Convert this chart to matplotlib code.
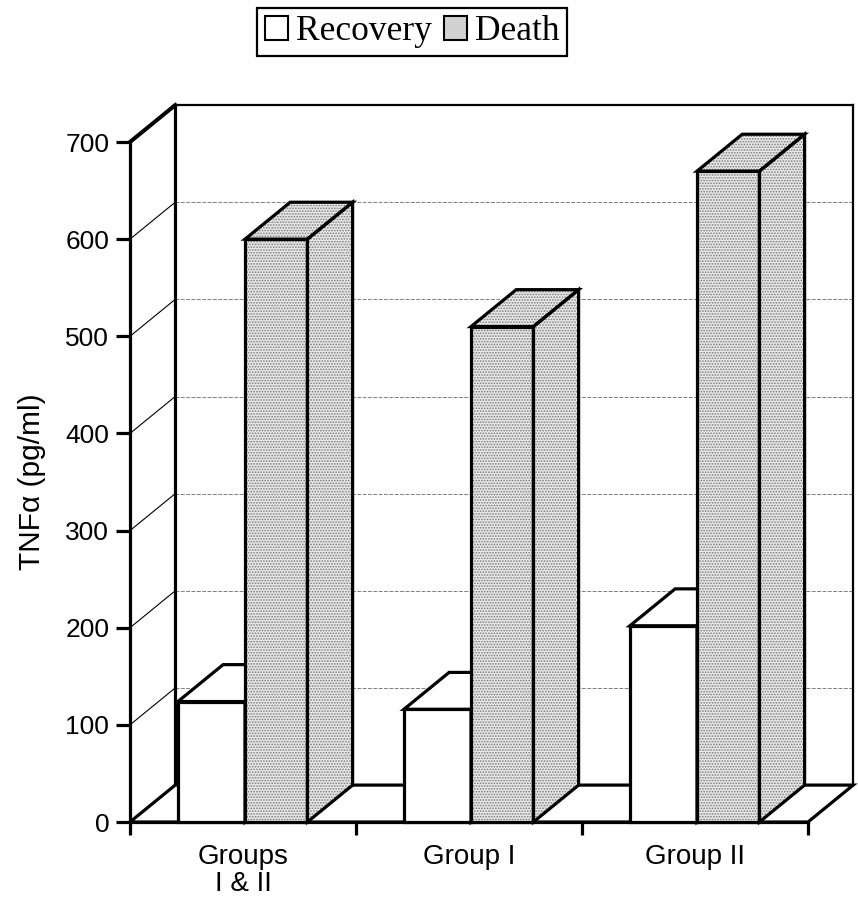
import matplotlib
matplotlib.use("Agg")
import matplotlib.pyplot as plt
from matplotlib.patches import Polygon, Patch

# data
categories = ["Groups\nI & II", "Group I", "Group II"]
recovery = [124, 116, 202]
death = [600, 510, 670]
yticks = [0, 100, 200, 300, 400, 500, 600, 700]

# pseudo 3d layout (data units)
DX, DY = 0.2, 38.0
REC_X = (0.212, 0.509)
DEA_X = (0.509, 0.785)
LW = 2.3
STIPPLE = "#e8e8e8"

plt.rcParams["hatch.linewidth"] = 0.8

fig = plt.figure(figsize=(8.58, 9.11), dpi=100)
ax = fig.add_axes([130 / 858, 1 - 822 / 911, 678 / 858, 680 / 911])
ax.set_xlim(0, 3)
ax.set_ylim(0, 700)
ax.patch.set_visible(False)
for s in ["top", "right"]:
    ax.spines[s].set_visible(False)
ax.spines["left"].set_linewidth(LW)
ax.spines["bottom"].set_linewidth(LW)

n = len(categories)
ymax = yticks[-1]

# back wall gridlines
for v in yticks[1:-1]:
    ax.plot([DX, n + DX], [v + DY, v + DY], color="#808080", lw=0.7,
            ls=(0, (4, 1.5)), clip_on=False, zorder=1)
    ax.plot([0, DX], [v, v + DY], color="black", lw=0.8, clip_on=False, zorder=1)
# back wall outline
ax.plot([DX, DX], [DY, ymax + DY], color="black", lw=LW, clip_on=False, zorder=2)
ax.plot([DX, n + DX], [ymax + DY, ymax + DY], color="black", lw=1.6, clip_on=False, zorder=2)
ax.plot([n + DX, n + DX], [DY, ymax + DY], color="black", lw=1.6, clip_on=False, zorder=2)
ax.plot([0, DX], [ymax, ymax + DY], color="black", lw=LW + 0.6, clip_on=False, zorder=2)

# floor
floor = Polygon([(0, 0), (n, 0), (n + DX, DY), (DX, DY)], closed=True,
                facecolor="white", edgecolor="black", lw=LW, clip_on=False, zorder=3)
ax.add_patch(floor)


def bar3d(x0, x1, h, stipple, z):
    faces = [
        [(x1, 0), (x1 + DX, DY), (x1 + DX, h + DY), (x1, h)],
        [(x0, h), (x1, h), (x1 + DX, h + DY), (x0 + DX, h + DY)],
        [(x0, 0), (x1, 0), (x1, h), (x0, h)],
    ]
    for f in faces:
        if stipple:
            ax.add_patch(Polygon(f, closed=True, facecolor=STIPPLE, edgecolor="#7a7a7a",
                                 hatch="......", lw=0, clip_on=False, zorder=z))
        else:
            ax.add_patch(Polygon(f, closed=True, facecolor="white", lw=0,
                                 clip_on=False, zorder=z))
        ax.add_patch(Polygon(f, closed=True, fill=False, edgecolor="black", lw=LW,
                             joinstyle="miter", clip_on=False, zorder=z + 0.1))


for i in range(n):
    bar3d(i + REC_X[0], i + REC_X[1], recovery[i], False, 4 + i * 2)
    bar3d(i + DEA_X[0], i + DEA_X[1], death[i], True, 5 + i * 2)

# axes ticks
ax.set_yticks(yticks)
ax.set_yticklabels([str(v) for v in yticks], fontsize=19, family="Liberation Sans")
ax.tick_params(axis="y", length=10, width=LW, pad=5)
ax.set_xticks(range(n + 1))
ax.set_xticklabels([""] * (n + 1))
ax.tick_params(axis="x", which="major", length=9, width=LW)
ax.set_xticks([i + 0.5 for i in range(n)], minor=True)
ax.set_xticklabels(categories, minor=True, fontsize=20, family="Liberation Sans",
                   linespacing=1.02)
ax.tick_params(axis="x", which="minor", length=0, pad=16)

ax.set_ylabel("TNF\u03b1 (pg/ml)", fontsize=21.5, family="Liberation Sans", labelpad=14)

handles = [Patch(facecolor="white", edgecolor="black", lw=1.5),
           Patch(facecolor="#d2d2d2", edgecolor="black", lw=1.5)]
leg = fig.legend(handles, ["Recovery", "Death"], loc="center",
                 bbox_to_anchor=(412 / 858, 1 - 32 / 911), ncol=2,
                 prop={"family": "Liberation Serif", "size": 25.5},
                 frameon=True, fancybox=False, framealpha=1, edgecolor="black",
                 borderpad=0.22, handlelength=0.65, handleheight=0.65,
                 handletextpad=0.22, columnspacing=0.35, borderaxespad=0)
leg.get_frame().set_linewidth(1.6)

fig.savefig("out.png", dpi=100)
